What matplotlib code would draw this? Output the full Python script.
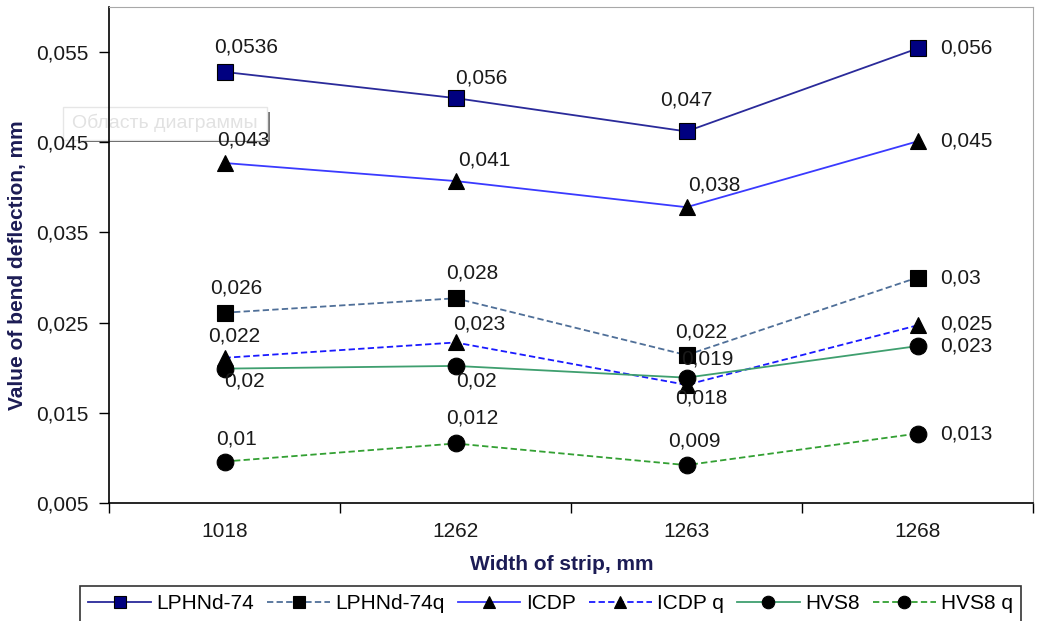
import numpy as np
import matplotlib.pyplot as plt
from matplotlib.patches import Rectangle
from matplotlib.lines import Line2D

plt.rcParams['font.family'] = ['Liberation Sans', 'DejaVu Sans']

# data
widths = ['1018', '1262', '1263', '1268']
lphnd74 = [0.0528, 0.0499, 0.0462, 0.0554]
lphnd74q = [0.0261, 0.0277, 0.0214, 0.0300]
icdp = [0.0427, 0.0407, 0.0378, 0.0451]
icdp_q = [0.0211, 0.0228, 0.0181, 0.0247]
hvs8 = [0.0199, 0.0202, 0.0189, 0.0224]
hvs8_q = [0.0096, 0.0116, 0.0092, 0.0127]

# data labels as typed in the chart
lab_lphnd74 = ['0,0536', '0,056', '0,047', '0,056']
lab_lphnd74q = ['0,026', '0,028', '0,022', '0,03']
lab_icdp = ['0,043', '0,041', '0,038', '0,045']
lab_icdp_q = ['0,022', '0,023', '0,018', '0,025']
lab_hvs8 = ['0,02', '0,02', '0,019', '0,023']
lab_hvs8_q = ['0,01', '0,012', '0,009', '0,013']

yticks = [0.005, 0.015, 0.025, 0.035, 0.045, 0.055]

# label offsets in pixels (dx, dy), dy up positive
off_lphnd74 = [(22, 25), (26, 20), (0, 31), (49, 0)]
off_icdp = [(19, 23), (29, 21), (28, 22), (49, 0)]
off_lphnd74q = [(12, 25), (17, 25), (15, 23), (43, 0)]
off_icdp_q = [(10, 22), (24, 18), (15, -13), (49, 1)]
off_hvs8 = [(20, -12), (21, -15), (21, 19), (49, 0)]
off_hvs8_q = [(12, 23), (17, 25), (8, 24), (49, 0)]

fig = plt.figure(figsize=(10.4, 6.21), dpi=100)
ax = fig.add_axes([109 / 1040, 1 - 503 / 621, (1033 - 109) / 1040, (503 - 7) / 621])

x = np.arange(len(widths))
dash = (0, (3.5, 1.8))

series = [
    (lphnd74, lab_lphnd74, off_lphnd74, 'LPHNd-74', '#2a2a9a', '-', 's', '#000080', 11),
    (lphnd74q, lab_lphnd74q, off_lphnd74q, 'LPHNd-74q', '#4f6f98', dash, 's', 'black', 11),
    (icdp, lab_icdp, off_icdp, 'ICDP', '#3a3aff', '-', '^', 'black', 11),
    (icdp_q, lab_icdp_q, off_icdp_q, 'ICDP q', '#1a1aff', dash, '^', 'black', 11),
    (hvs8, lab_hvs8, off_hvs8, 'HVS8', '#3f9f6f', '-', 'o', 'black', 12),
    (hvs8_q, lab_hvs8_q, off_hvs8_q, 'HVS8 q', '#33a033', dash, 'o', 'black', 12),
]

handles = []
for vals, labs, offs, name, col, ls, mk, mfc, ms in series:
    ax.plot(x, vals, color=col, linestyle=ls, linewidth=1.3, zorder=2)
    ax.plot(x, vals, linestyle='none', marker=mk, markersize=ms, markerfacecolor=mfc,
            markeredgecolor='black', markeredgewidth=0.8, zorder=3)
    for xi, v, t, (dx, dy) in zip(x, vals, labs, offs):
        ax.annotate(t, (xi, v), xytext=(dx, dy), textcoords='offset pixels',
                    ha='center', va='center', fontsize=15, color='#1a1a1a', zorder=4)
    handles.append(Line2D([0], [0], color=col, linestyle=ls, linewidth=1.3, marker=mk,
                          markersize=ms * 0.75, markerfacecolor=mfc, markeredgecolor='black',
                          markeredgewidth=0.8, label=name))

ax.set_xlim(-0.5, len(widths) - 0.5)
ax.set_ylim(0.005, 0.06)
ax.set_yticks(yticks)
ax.set_yticklabels([('%.3f' % t).replace('.', ',') for t in yticks])
ax.set_xticks(x)
ax.set_xticklabels(widths)
ax.set_xticks(np.arange(-0.5, len(widths)), minor=True)
ax.tick_params(axis='x', which='major', length=0, pad=14, labelsize=15, labelcolor='#1a1a1a')
ax.tick_params(axis='x', which='minor', length=7, width=1, direction='out')
ax.tick_params(axis='y', length=7, width=1, direction='out', pad=8, labelsize=15,
               labelcolor='#1a1a1a')

for s in ['top', 'right']:
    ax.spines[s].set_color('#a8a8a8')
for s in ['left', 'bottom']:
    ax.spines[s].set_color('black')
    ax.spines[s].set_linewidth(1.2)

fig.text(18 / 1040, 1 - 265 / 621, 'Value of bend deflection, mm', rotation=90,
         ha='center', va='center', fontsize=15, fontweight='bold', color='#1c1c55')
fig.text(562 / 1040, 1 - 565 / 621, 'Width of strip, mm', ha='center', va='center',
         fontsize=15, fontweight='bold', color='#1c1c55')

# faint tooltip left in the screenshot (under the data labels)
tip = [
    Rectangle((85 / 1040, 1 - 142 / 621), 185 / 1040, 2 / 621, facecolor='#555555',
              edgecolor='none'),
    Rectangle((267 / 1040, 1 - 142 / 621), 3 / 1040, 30 / 621, facecolor='#777777',
              edgecolor='none'),
    Rectangle((63 / 1040, 1 - 140 / 621), 204 / 1040, 33 / 621, facecolor='white',
              edgecolor='#e6e6e6', linewidth=1),
]
for p in tip:
    p.set_transform(fig.transFigure)
    p.set_clip_on(False)
    p.set_zorder(1.5)
    ax.add_artist(p)
ax.text(165 / 1040, 1 - 123 / 621, 'Область диаграммы', transform=fig.transFigure,
        ha='center', va='center', fontsize=14, color='#e2e2e2', zorder=1.6, clip_on=False)

leg = fig.legend(handles=handles, loc='upper left', bbox_to_anchor=(80 / 1040, 1 - 586 / 621),
                 ncol=6, fontsize=15, frameon=True, fancybox=False, handlelength=3.0,
                 handletextpad=0.25, columnspacing=0.65, borderpad=0.4, borderaxespad=0)
leg.get_frame().set_edgecolor('black')
leg.get_frame().set_linewidth(1.2)

fig.savefig('out.png', dpi=100)
